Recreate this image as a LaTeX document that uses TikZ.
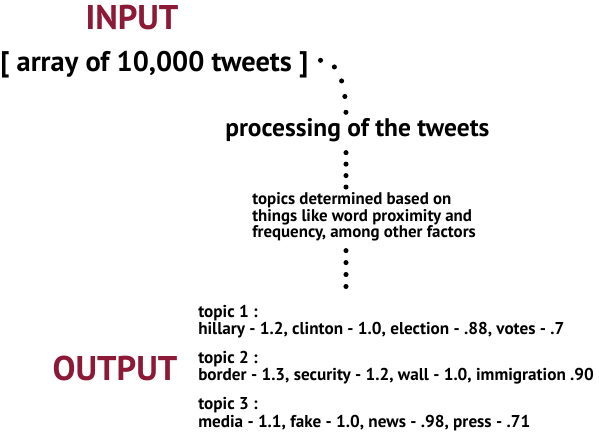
\documentclass[tikz,border=0pt]{standalone}
\usepackage{fontspec}
\setmainfont{PT Sans}
\usetikzlibrary{positioning}
\definecolor{Maroon}{RGB}{140, 26, 54}

\begin{document}
\begin{tikzpicture}[
		font=\bfseries,
		title/.style={text=Maroon, inner sep=0pt, font=\fontsize{24.4}{26}\bfseries},
		plain/.style={inner sep=0pt},
		small/.style={inner sep=0pt, align=left, font=\fontsize{12}{9.4}\bfseries},
		topic/.style={inner sep=0pt, align=left, font=\fontsize{12.2}{10.6}\bfseries},
		dotline/.style={line width=3.6pt, line cap=round, dash pattern=on 0pt off 11.3pt}
	]
		\useasboundingbox (0,0) rectangle (14.975,10.975);
		\coordinate (spine) at (8.65,0);
		% input side
		\node[title] (input) at (3.30,10.525) {INPUT};
		\node[plain, anchor=base west, font=\fontsize{20.2}{22}\bfseries] (arr) at (0,9.175) {[ array of 10,000 tweets ]};
		\node[plain, anchor=base west, font=\fontsize{18.1}{20}\bfseries] (proc) at (5.625,7.55) {processing of the tweets};
		\node[small, anchor=north west] (note) at (6.30,6.175) {topics determined based on\\things like word proximity and\\frequency, among other factors};
		% output side
		\node[topic, anchor=north west] (topic1) at (4.95,3.35) {topic 1 :\\hillary - 1.2, clinton - 1.0, election - .88, votes - .7};
		\node[topic, below=0.32cm of topic1.south west, anchor=north west] (topic2) {topic 2 :\\border - 1.3, security - 1.2, wall - 1.0, immigration .90};
		\node[topic, below=0.32cm of topic2.south west, anchor=north west] (topic3) {topic 3 :\\media - 1.1, fake - 1.0, news - .98, press - .71};
		\node[title] (output) at (2.875,1.75) {OUTPUT};
		% dotted connectors
		\draw[dotline] ([xshift=0.3cm, yshift=0.12cm]arr.east) .. controls +(0.5,0) and +(0,0.65) .. ([yshift=2pt]proc.north -| spine);
		\draw[dotline, dash pattern=on 0pt off 8.15pt] ([yshift=-0.25cm]proc.south -| spine) -- ([yshift=2pt]note.north -| spine);
		\draw[dotline, dash pattern=on 0pt off 8.5pt] ([yshift=-0.22cm]note.south -| spine) -- ([yshift=0.25cm]topic1.north -| spine);
	\end{tikzpicture}
\end{document}
